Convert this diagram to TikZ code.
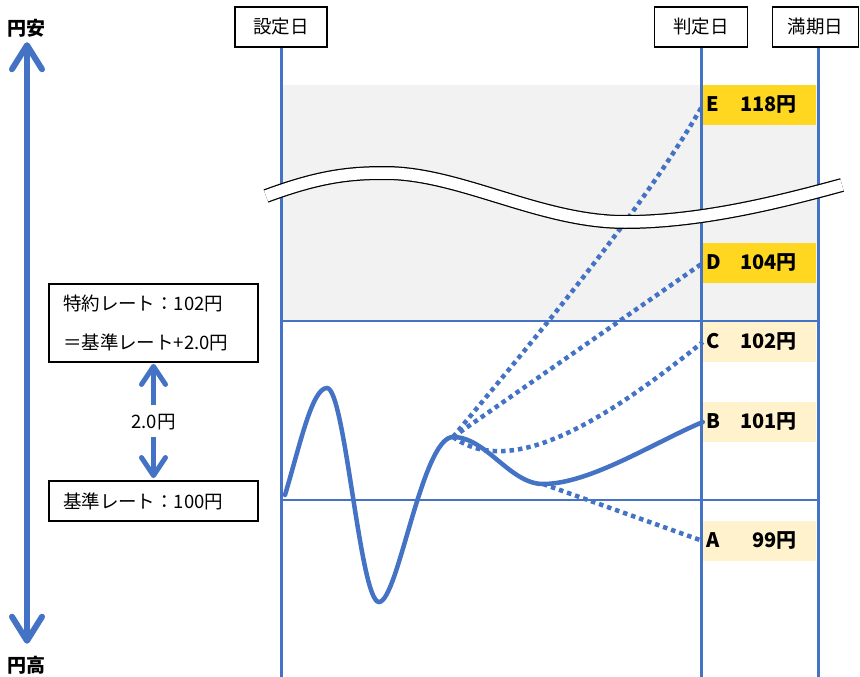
\documentclass[tikz,border=0pt]{standalone}
\usepackage{fontspec}
\setmainfont{Noto Sans CJK JP}
\usepackage{xcolor}
\usepackage{tikz}
\usetikzlibrary{arrows.meta, positioning, calc}

\definecolor{lineblue}{RGB}{68,114,196}
\definecolor{bandgray}{RGB}{242,242,242}
\definecolor{gold}{RGB}{255,214,32}
\definecolor{paleyellow}{RGB}{255,242,204}

\begin{document}
\begin{tikzpicture}[x=1pt, y=-1pt, font=\fontsize{18.5}{22}\selectfont,
  datebox/.style  = {draw, line width=1.8pt, minimum height=40pt, inner sep=0pt},
  ratebox/.style  = {draw, line width=1.8pt, minimum width=209pt, text width=181pt,
                     inner xsep=14pt, align=left, font=\fontsize{18.5}{39}\selectfont},
  result/.style   = {minimum width=113pt, minimum height=40pt, inner sep=0pt,
                     font=\fontsize{20}{22}\selectfont\bfseries},
  axis/.style     = {draw=lineblue, line width=3pt},
  gridline/.style = {draw=lineblue, line width=1.3pt},
  rate/.style     = {draw=lineblue, line width=4.5pt, line cap=round},
  scenario/.style = {draw=lineblue, line width=4.5pt, dash pattern=on 4.5pt off 4pt},
  bigarrow/.style = {draw=lineblue, line width=6pt,
                     arrows={Straight Barb[round,length=24pt,width=30pt]-Straight Barb[round,length=24pt,width=30pt]}},
  gaparrow/.style = {draw=lineblue, line width=5pt,
                     arrows={-Straight Barb[round,length=18pt,width=24pt]}}
]
  \useasboundingbox (0,0) rectangle (860,677);

  %% shaded zone above the quote line
  \fill[bandgray] (281,85) rectangle (818,321);

  %% date boxes and time lines
  \node[datebox, minimum width=92pt] (set)   at (281,27)   {設定日};
  \node[datebox, minimum width=93pt] (judge) at (701,27)   {判定日};
  \node[datebox, minimum width=86pt] (mat)   at (815.5,27) {満期日};

  \coordinate (setB)   at (281,677);
  \coordinate (judgeB) at (701,677);
  \coordinate (matB)   at (818,677);
  \coordinate (quote)  at (281,321);
  \coordinate (strike) at (281,500);

  \draw[gridline] (quote) -- (quote -| matB);
  \draw[gridline] (strike) -- (strike -| matB);

  \draw[axis] (set) -- (setB);
  \draw[axis] (judge) -- (judgeB);
  \draw[axis] ([xshift=2.5pt]mat.south) -- (matB);

  %% results at the judgement date
  \node[result, fill=gold]       (E) at (759.5,105) {\makebox[113pt]{\hspace*{3pt}E\hfill 118円\hspace*{19pt}}};
  \node[result, fill=gold]       (D) at (759.5,263) {\makebox[113pt]{\hspace*{3pt}D\hfill 104円\hspace*{19pt}}};
  \node[result, fill=paleyellow] (C) at (759.5,342) {\makebox[113pt]{\hspace*{3pt}C\hfill 102円\hspace*{19pt}}};
  \node[result, fill=paleyellow] (B) at (759.5,422) {\makebox[113pt]{\hspace*{3pt}B\hfill 101円\hspace*{19pt}}};
  \node[result, fill=paleyellow] (A) at (759.5,541) {\makebox[113pt]{\hspace*{3pt}A\hfill 99円\hspace*{19pt}}};

  %% rate path
  \coordinate (start) at (285,495);
  \coordinate (fork)  at (453,437);
  \coordinate (dip)   at (543,484);
  \draw[rate] (start) .. controls (300,445) and (312,388) .. (327,388)
                      .. controls (345,388) and (360,602) .. (379,602)
                      .. controls (398,602) and (422,437) .. (fork)
                      .. controls (486,437) and (510,484) .. (dip)
                      .. controls (590,484) and (655,442) .. (B.west);

  %% scenarios
  \draw[scenario] (fork) .. controls (525,350) and (640,215) .. (E.west);
  \draw[scenario] (fork) -- (D.west);
  \draw[scenario] (fork) .. controls (510,478) and (600,425) .. (C.west);
  \draw[scenario] (dip) -- (A.west);

  %% break mark
  \draw[line width=14pt, black] (266,196) .. controls (320,176) and (350,173) .. (385,173)
       .. controls (460,173) and (540,222) .. (625,222)
       .. controls (700,222) and (780,202) .. (842,185);
  \draw[line width=11.5pt, white] (266,196) .. controls (320,176) and (350,173) .. (385,173)
       .. controls (460,173) and (540,222) .. (625,222)
       .. controls (700,222) and (780,202) .. (842,185);

  %% rate boxes
  \node[ratebox, minimum height=78pt] (tok)  at (153.5,323) {特約レート：102円\\＝基準レート+2.0円};
  \node[ratebox, minimum height=40pt] (base) at (153.5,501) {基準レート：100円};
  \node[inner sep=0pt] (gap) at (153.5,422) {2.0円};
  \draw[gaparrow, shorten <=9pt, shorten >=1pt] (gap) -- (tok);
  \draw[gaparrow, shorten <=7pt, shorten >=2pt] (gap) -- (base);

  %% yen direction
  \node[inner sep=0pt, font=\fontsize{19}{20}\selectfont\bfseries] (cheap)  at (27,28)  {円安};
  \node[inner sep=0pt, font=\fontsize{19}{20}\selectfont\bfseries] (strong) at (27,665) {円高};
  \draw[bigarrow, shorten <=5pt, shorten >=12pt] (cheap) -- (strong);
\end{tikzpicture}
\end{document}
